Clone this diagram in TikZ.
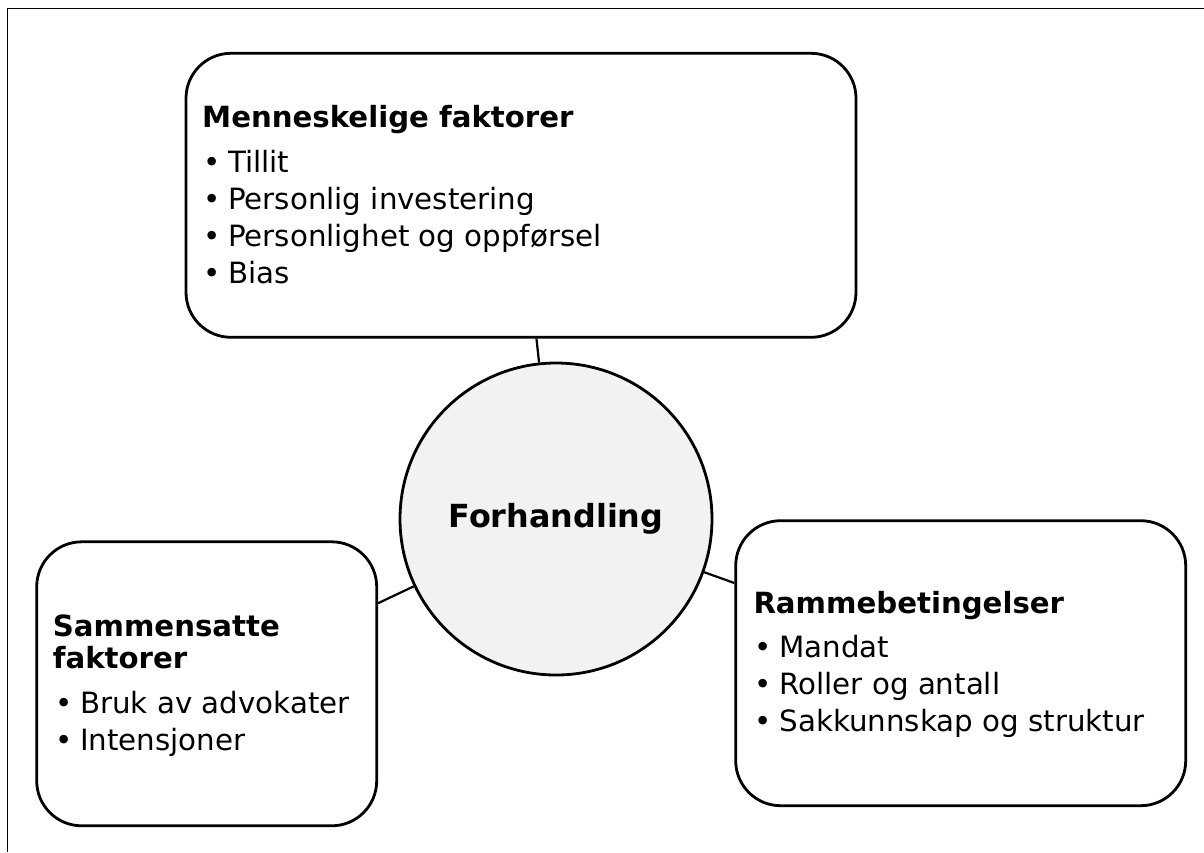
\documentclass[tikz,border=0pt]{standalone}
\usepackage{fontspec}
\setmainfont{DejaVu Sans}
\definecolor{hubfill}{RGB}{242,242,242}
\begin{document}
\begin{tikzpicture}[x=1pt,y=-1pt,
  panel/.style={draw, line width=2.8pt, rounded corners=45pt, rectangle, inner sep=0pt},
  hub/.style={draw, line width=2.8pt, circle, fill=hubfill, inner sep=0pt,
    minimum size=312pt, font=\fontsize{31.8}{38}\selectfont\bfseries},
  link/.style={line width=2.2pt},
  frameline/.style={line width=1.5pt},
  head/.style={anchor=base west, inner sep=0pt, font=\fontsize{29.2}{35}\selectfont\bfseries},
  item/.style={anchor=base west, inner sep=0pt, font=\fontsize{29.3}{35}\selectfont}]
\useasboundingbox (0,0) rectangle (1204,852);

% outer frame: top and left edges only
\coordinate (fbl) at (7.5,852);
\coordinate (ftl) at (7.5,8.3);
\coordinate (ftr) at (1204,8.3);
\draw[frameline] (fbl) -- (ftl) -- (ftr);

% central topic and the three factor panels
\node[hub] (hubnode) at (556,519) {Forhandling};
\node[panel, minimum width=670pt, minimum height=284pt] (human) at (521,195.3) {};
\node[panel, minimum width=340pt, minimum height=284pt] (composite) at (206.7,683.8) {};
\node[panel, minimum width=450pt, minimum height=285pt] (frame) at (960.7,663.2) {};

% connectors from the hub to each panel
\draw[link] (hubnode) -- (human);
\draw[link] (hubnode) -- (composite);
\draw[link] (hubnode) -- (frame);

\newcommand{\bul}{\makebox[25pt][l]{•}}

% human factors
\node[head] (humanhead) at (202,127.3) {Menneskelige faktorer};
\node[item] (human1) at (203,172.3) {\bul Tillit};
\node[item] (human2) at (203,209.5) {\bul Personlig investering};
\node[item] (human3) at (203,246.5) {\bul Personlighet og oppførsel};
\node[item] (human4) at (203,283.3) {\bul Bias};

% composite factors
\node[head] (comphead1) at (52.7,636) {Sammensatte};
\node[head] (comphead2) at (52.7,668.3) {faktorer};
\node[item] (comp1) at (55,713.3) {\bul Bruk av advokater};
\node[item] (comp2) at (55,750) {\bul Intensjoner};

% framework conditions
\node[head] (framehead) at (753.3,613.3) {Rammebetingelser};
\node[item] (frame1) at (754.3,657.3) {\bul Mandat};
\node[item] (frame2) at (754.3,694.5) {\bul Roller og antall};
\node[item] (frame3) at (754.3,731.7) {\bul Sakkunnskap og struktur};
\end{tikzpicture}
\end{document}
